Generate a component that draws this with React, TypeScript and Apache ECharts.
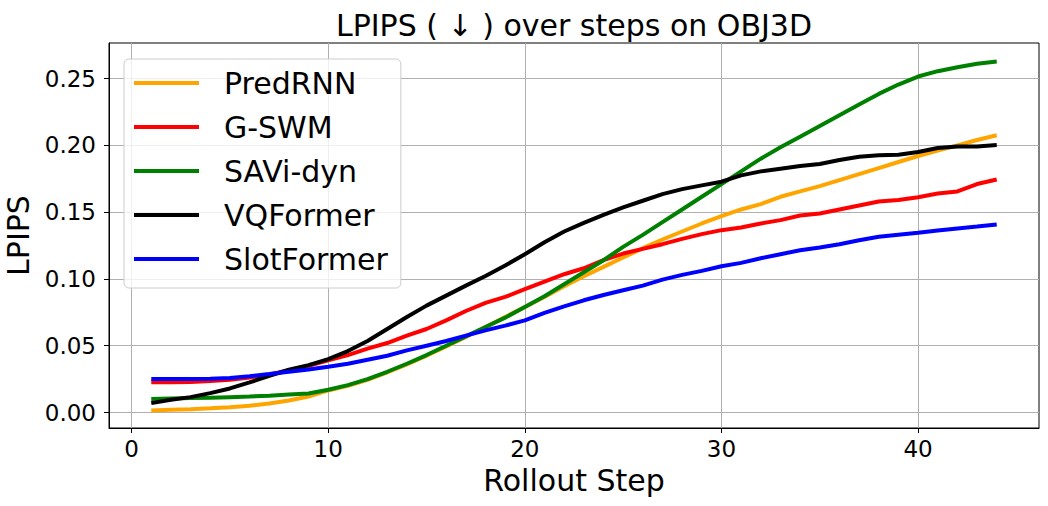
import React, { useEffect, useRef } from "react";
import * as echarts from "echarts";

const steps = [1, 2, 3, 4, 5, 6, 7, 8, 9, 10, 11, 12, 13, 14, 15, 16, 17, 18, 19, 20, 21, 22, 23, 24, 25, 26, 27, 28, 29, 30, 31, 32, 33, 34, 35, 36, 37, 38, 39, 40, 41, 42, 43, 44];

const predRNN = [0.0015, 0.002, 0.0025, 0.0032, 0.004, 0.005, 0.0068, 0.009, 0.012, 0.0165, 0.02, 0.0245, 0.03, 0.036, 0.0425, 0.0495, 0.0565, 0.064, 0.0715, 0.079, 0.0865, 0.0945, 0.102, 0.109, 0.116, 0.123, 0.1295, 0.1355, 0.1415, 0.147, 0.152, 0.156, 0.1615, 0.1655, 0.1695, 0.174, 0.1785, 0.183, 0.1875, 0.192, 0.196, 0.2, 0.204, 0.2075];

const gSWM = [0.0226, 0.0226, 0.0228, 0.0235, 0.0245, 0.0262, 0.0285, 0.0315, 0.035, 0.039, 0.043, 0.0478, 0.052, 0.0575, 0.0625, 0.069, 0.076, 0.082, 0.0865, 0.0923, 0.098, 0.1035, 0.108, 0.114, 0.119, 0.1225, 0.126, 0.13, 0.1335, 0.1365, 0.1385, 0.1415, 0.144, 0.1475, 0.149, 0.152, 0.155, 0.158, 0.159, 0.1612, 0.164, 0.1655, 0.171, 0.1744];

const saviDyn = [0.0102, 0.0105, 0.0108, 0.011, 0.0115, 0.012, 0.0126, 0.0135, 0.0142, 0.017, 0.0205, 0.025, 0.0305, 0.0365, 0.043, 0.05, 0.057, 0.064, 0.071, 0.079, 0.087, 0.096, 0.105, 0.114, 0.124, 0.133, 0.1425, 0.152, 0.1615, 0.171, 0.1805, 0.19, 0.1985, 0.2065, 0.2145, 0.2225, 0.2305, 0.2385, 0.2455, 0.2515, 0.2555, 0.2585, 0.261, 0.2627];

const vqFormer = [0.007, 0.0095, 0.0115, 0.0145, 0.018, 0.0225, 0.0275, 0.032, 0.0355, 0.04, 0.046, 0.0535, 0.0625, 0.0715, 0.08, 0.0875, 0.095, 0.1022, 0.11, 0.1185, 0.1275, 0.1355, 0.142, 0.148, 0.1535, 0.1585, 0.1635, 0.1672, 0.17, 0.1728, 0.1775, 0.1805, 0.1825, 0.1845, 0.186, 0.189, 0.1915, 0.1925, 0.193, 0.195, 0.198, 0.1992, 0.1992, 0.2002];

const slotFormer = [0.0251, 0.025, 0.025, 0.0253, 0.0258, 0.0272, 0.0288, 0.0305, 0.0322, 0.0343, 0.0365, 0.0395, 0.0425, 0.0465, 0.05, 0.0535, 0.0575, 0.0615, 0.065, 0.069, 0.0745, 0.0795, 0.084, 0.088, 0.0915, 0.095, 0.0995, 0.103, 0.106, 0.1095, 0.112, 0.1155, 0.1185, 0.1214, 0.1235, 0.126, 0.129, 0.1315, 0.133, 0.1345, 0.1362, 0.1378, 0.1392, 0.1408];

const seriesNames = ["PredRNN", "G-SWM", "SAVi-dyn", "VQFormer", "SlotFormer"];
const seriesColors = ["#FFA500", "#FF0000", "#008000", "#000000", "#0000FF"];
const seriesValues = [predRNN, gSWM, saviDyn, vqFormer, slotFormer];

const titleText = "LPIPS ( ↓ ) over steps on OBJ3D";
const xName = "Rollout Step";
const yName = "LPIPS";

const FONT = "DejaVu Sans";

export default function App() {
  const ref = useRef<HTMLDivElement>(null);
  useEffect(() => {
    if (!ref.current) return;
    const chart = echarts.init(ref.current, null, { renderer: "svg" });
    const option: any = {
      animation: false,
      backgroundColor: "#ffffff",
      textStyle: { fontFamily: FONT },
      graphic: [
        {
          type: "text",
          x: 574,
          y: 25,
          z: 100,
          style: {
            text: titleText,
            fontFamily: FONT,
            fontSize: 30,
            fill: "#000",
            textAlign: "center",
            textVerticalAlign: "middle",
          },
        },
      ],
      grid: {
        left: 109,
        right: 9,
        top: 43,
        bottom: 78,
        outerBoundsMode: "none",
        containLabel: false,
        show: true,
        borderColor: "#000",
        borderWidth: 1,
        backgroundColor: "transparent",
      },
      legend: {
        orient: "vertical",
        left: 124,
        top: 59,
        icon: "rect",
        itemWidth: 65,
        itemHeight: 4,
        itemGap: 14,
        padding: [9, 13, 14, 10],
        backgroundColor: "rgba(255,255,255,0.8)",
        borderColor: "#cccccc",
        borderWidth: 1,
        borderRadius: 5,
        textStyle: { fontFamily: FONT, fontSize: 30, color: "#000", lineHeight: 30, padding: [0, 0, 0, 20] },
        data: seriesNames,
      },
      xAxis: {
        type: "value",
        min: -1.15,
        max: 46.15,
        splitNumber: 5,
        name: xName,
        nameLocation: "middle",
        nameGap: 37,
        nameTextStyle: { fontFamily: FONT, fontSize: 30, color: "#000" },
        axisLine: { show: true, onZero: false, lineStyle: { color: "#000", width: 1 } },
        axisTick: { show: true, length: 5, lineStyle: { color: "#000" } },
        axisLabel: { fontFamily: FONT, fontSize: 23, color: "#000", margin: 9, showMinLabel: false, showMaxLabel: false },
        splitLine: { show: true, showMinLine: false, showMaxLine: false, lineStyle: { color: "#b0b0b0", width: 1 } },
      },
      yAxis: {
        type: "value",
        min: -0.0116,
        max: 0.2766,
        splitNumber: 5,
        name: yName,
        nameLocation: "middle",
        nameGap: 70,
        nameTextStyle: { fontFamily: FONT, fontSize: 30, color: "#000" },
        axisLine: { show: true, onZero: false, lineStyle: { color: "#000", width: 1 } },
        axisTick: { show: true, length: 5, lineStyle: { color: "#000" } },
        axisLabel: {
          fontFamily: FONT,
          fontSize: 23,
          color: "#000",
          margin: 13,
          showMinLabel: false,
          showMaxLabel: false,
          formatter: (v: number) => v.toFixed(2),
        },
        splitLine: { show: true, showMinLine: false, showMaxLine: false, lineStyle: { color: "#b0b0b0", width: 1 } },
      },
      series: seriesNames.map((name, k) => ({
        name,
        type: "line",
        data: steps.map((s, i) => [s, seriesValues[k][i]]),
        symbol: "none",
        showSymbol: false,
        smooth: false,
        color: seriesColors[k],
        lineStyle: { color: seriesColors[k], width: 4 },
        z: 3 + k,
      })),
    };
    chart.setOption(option);
    return () => chart.dispose();
  }, []);
  return (
    <div
      ref={ref}
      style={{ position: "fixed", left: 0, top: 0, width: 1048, height: 506, background: "#fff" }}
    />
  );
}
